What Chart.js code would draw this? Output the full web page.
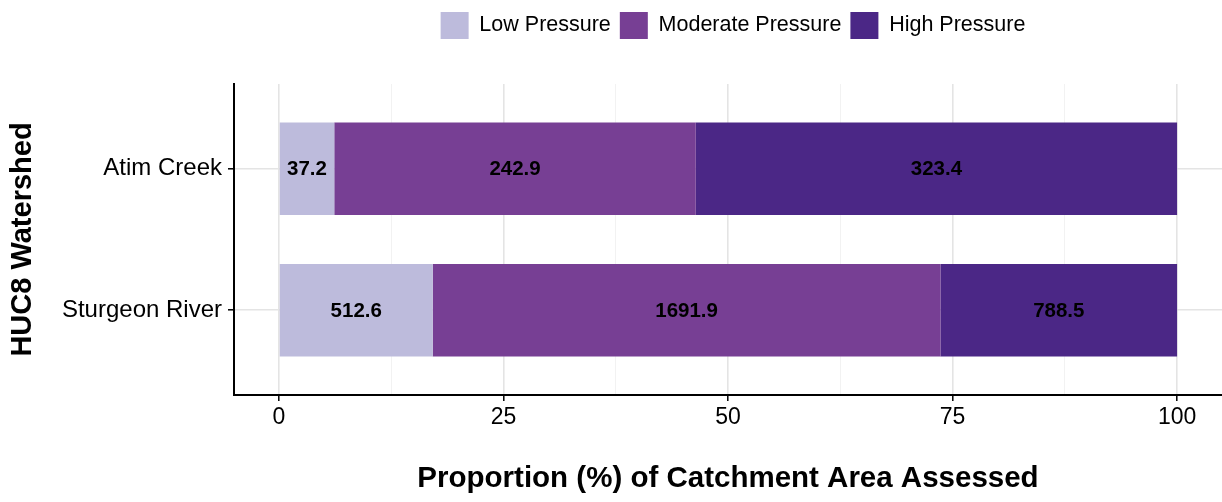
<!DOCTYPE html>
<html>
<head>
<meta charset="utf-8">
<script src="https://cdn.jsdelivr.net/npm/chart.js@4/dist/chart.umd.min.js"></script>
<style>
  html, body { margin: 0; padding: 0; background: #fff; }
  #wrap { width: 1222px; height: 502px; }
</style>
</head>
<body>
<div id="wrap"><canvas id="myChart" width="1222" height="502"></canvas></div>
<script>
// Catchment area (km2) by pressure class, per watershed
const watersheds = ['Atim Creek', 'Sturgeon River'];
const pressureClasses = ['Low Pressure', 'Moderate Pressure', 'High Pressure'];
const lowArea = [37.2, 512.6];
const moderateArea = [242.9, 1691.9];
const highArea = [323.4, 788.5];
const xMajorTicks = [0, 25, 50, 75, 100];
const xMinorTicks = [12.5, 37.5, 62.5, 87.5];

const FONT = '"Liberation Sans", Arial, Helvetica, sans-serif';
const colors = ['#bdbbdc', '#773f94', '#4b2786'];

// total area of each watershed, used to turn areas into proportions
const totals = watersheds.map((w, i) => lowArea[i] + moderateArea[i] + highArea[i]);

function toPoints(areas) {
    return areas.map((a, i) => ({ x: a / totals[i] * 100, y: i + 1, area: a }));
}

// draws the area value in the middle of each bar segment
const barLabels = {
    id: 'barLabels',
    afterDatasetsDraw(chart) {
        const ctx = chart.ctx;
        ctx.save();
        ctx.font = 'bold 20.5px ' + FONT;
        ctx.fillStyle = '#000';
        ctx.textAlign = 'center';
        ctx.textBaseline = 'middle';
        chart.data.datasets.forEach((ds, di) => {
            chart.getDatasetMeta(di).data.forEach((bar, i) => {
                const c = bar.getCenterPoint();
                ctx.fillText(ds.data[i].area.toFixed(1), c.x, c.y + 1);
            });
        });
        ctx.restore();
    }
};

// extra space under the legend, and centre it a bit further right
const legendGap = {
    id: 'legendGap',
    beforeLayout(chart) {
        const legend = chart.legend;
        if (legend && !legend._gapPatched) {
            const fit = legend.fit;
            legend.fit = function () {
                fit.call(this);
                this.height += 35;
            };
            legend._gapPatched = true;
        }
    },
    afterLayout(chart) {
        if (chart.legend) {
            chart.legend.left += 5;
            chart.legend.right += 5;
        }
    }
};

const chartConfig = {
    type: 'bar',
    data: {
        datasets: [
            { label: pressureClasses[0], data: toPoints(lowArea), backgroundColor: colors[0] },
            { label: pressureClasses[1], data: toPoints(moderateArea), backgroundColor: colors[1] },
            { label: pressureClasses[2], data: toPoints(highArea), backgroundColor: colors[2] }
        ]
    },
    options: {
        responsive: false,
        animation: false,
        indexAxis: 'y',
        categoryPercentage: 1,
        barPercentage: 0.655,
        borderWidth: 0,
        layout: { padding: { top: 3, right: 0, bottom: 0, left: 0 } },
        plugins: {
            tooltip: { enabled: false },
            legend: {
                position: 'top',
                fullSize: false,
                labels: {
                    boxWidth: 28,
                    boxHeight: 27,
                    padding: 9,
                    color: '#000',
                    font: { family: FONT, size: 21.5 }
                }
            }
        },
        scales: {
            x: {
                type: 'linear',
                stacked: true,
                min: -5,
                max: 105,
                afterBuildTicks: axis => {
                    axis.ticks = xMajorTicks.concat(xMinorTicks).sort((a, b) => a - b).map(v => ({ value: v }));
                },
                afterFit: axis => { axis.height = 107; },
                ticks: {
                    color: '#000',
                    padding: 3,
                    maxRotation: 0,
                    autoSkip: false,
                    font: { family: FONT, size: 23 },
                    callback: v => xMajorTicks.includes(v) ? String(v) : ''
                },
                grid: {
                    color: ctx => xMajorTicks.includes(ctx.tick.value) ? '#e4e4e4' : '#f2f2f2',
                    lineWidth: ctx => xMajorTicks.includes(ctx.tick.value) ? 1.6 : 1,
                    tickColor: ctx => xMajorTicks.includes(ctx.tick.value) ? '#000' : 'rgba(0,0,0,0)',
                    tickLength: 6,
                    tickWidth: 1.5
                },
                border: { display: true, color: '#000', width: 2 },
                title: {
                    display: true,
                    text: 'Proportion (%) of Catchment Area Assessed',
                    color: '#000',
                    font: { family: FONT, size: 29.5, weight: 'bold' },
                    padding: { top: 0, bottom: 5 }
                }
            },
            y: {
                type: 'linear',
                stacked: true,
                reverse: true,
                offset: false,
                min: 0.4,
                max: 2.6,
                afterBuildTicks: axis => {
                    axis.ticks = watersheds.map((w, i) => ({ value: i + 1 }));
                },
                afterFit: axis => { axis.width = 234; },
                ticks: {
                    color: '#000',
                    padding: 6,
                    autoSkip: false,
                    font: { family: FONT, size: 24 },
                    callback: v => watersheds[v - 1]
                },
                grid: {
                    offset: false,
                    color: '#e4e4e4',
                    lineWidth: 1.6,
                    tickColor: '#000',
                    tickLength: 6,
                    tickWidth: 1.5
                },
                border: { display: true, color: '#000', width: 2 },
                title: {
                    display: true,
                    text: 'HUC8 Watershed',
                    color: '#000',
                    font: { family: FONT, size: 29, weight: 'bold' },
                    padding: { top: 6, bottom: 0 }
                }
            }
        }
    },
    plugins: [barLabels, legendGap]
};

new Chart(document.getElementById('myChart').getContext('2d'), chartConfig);
</script>
</body>
</html>
